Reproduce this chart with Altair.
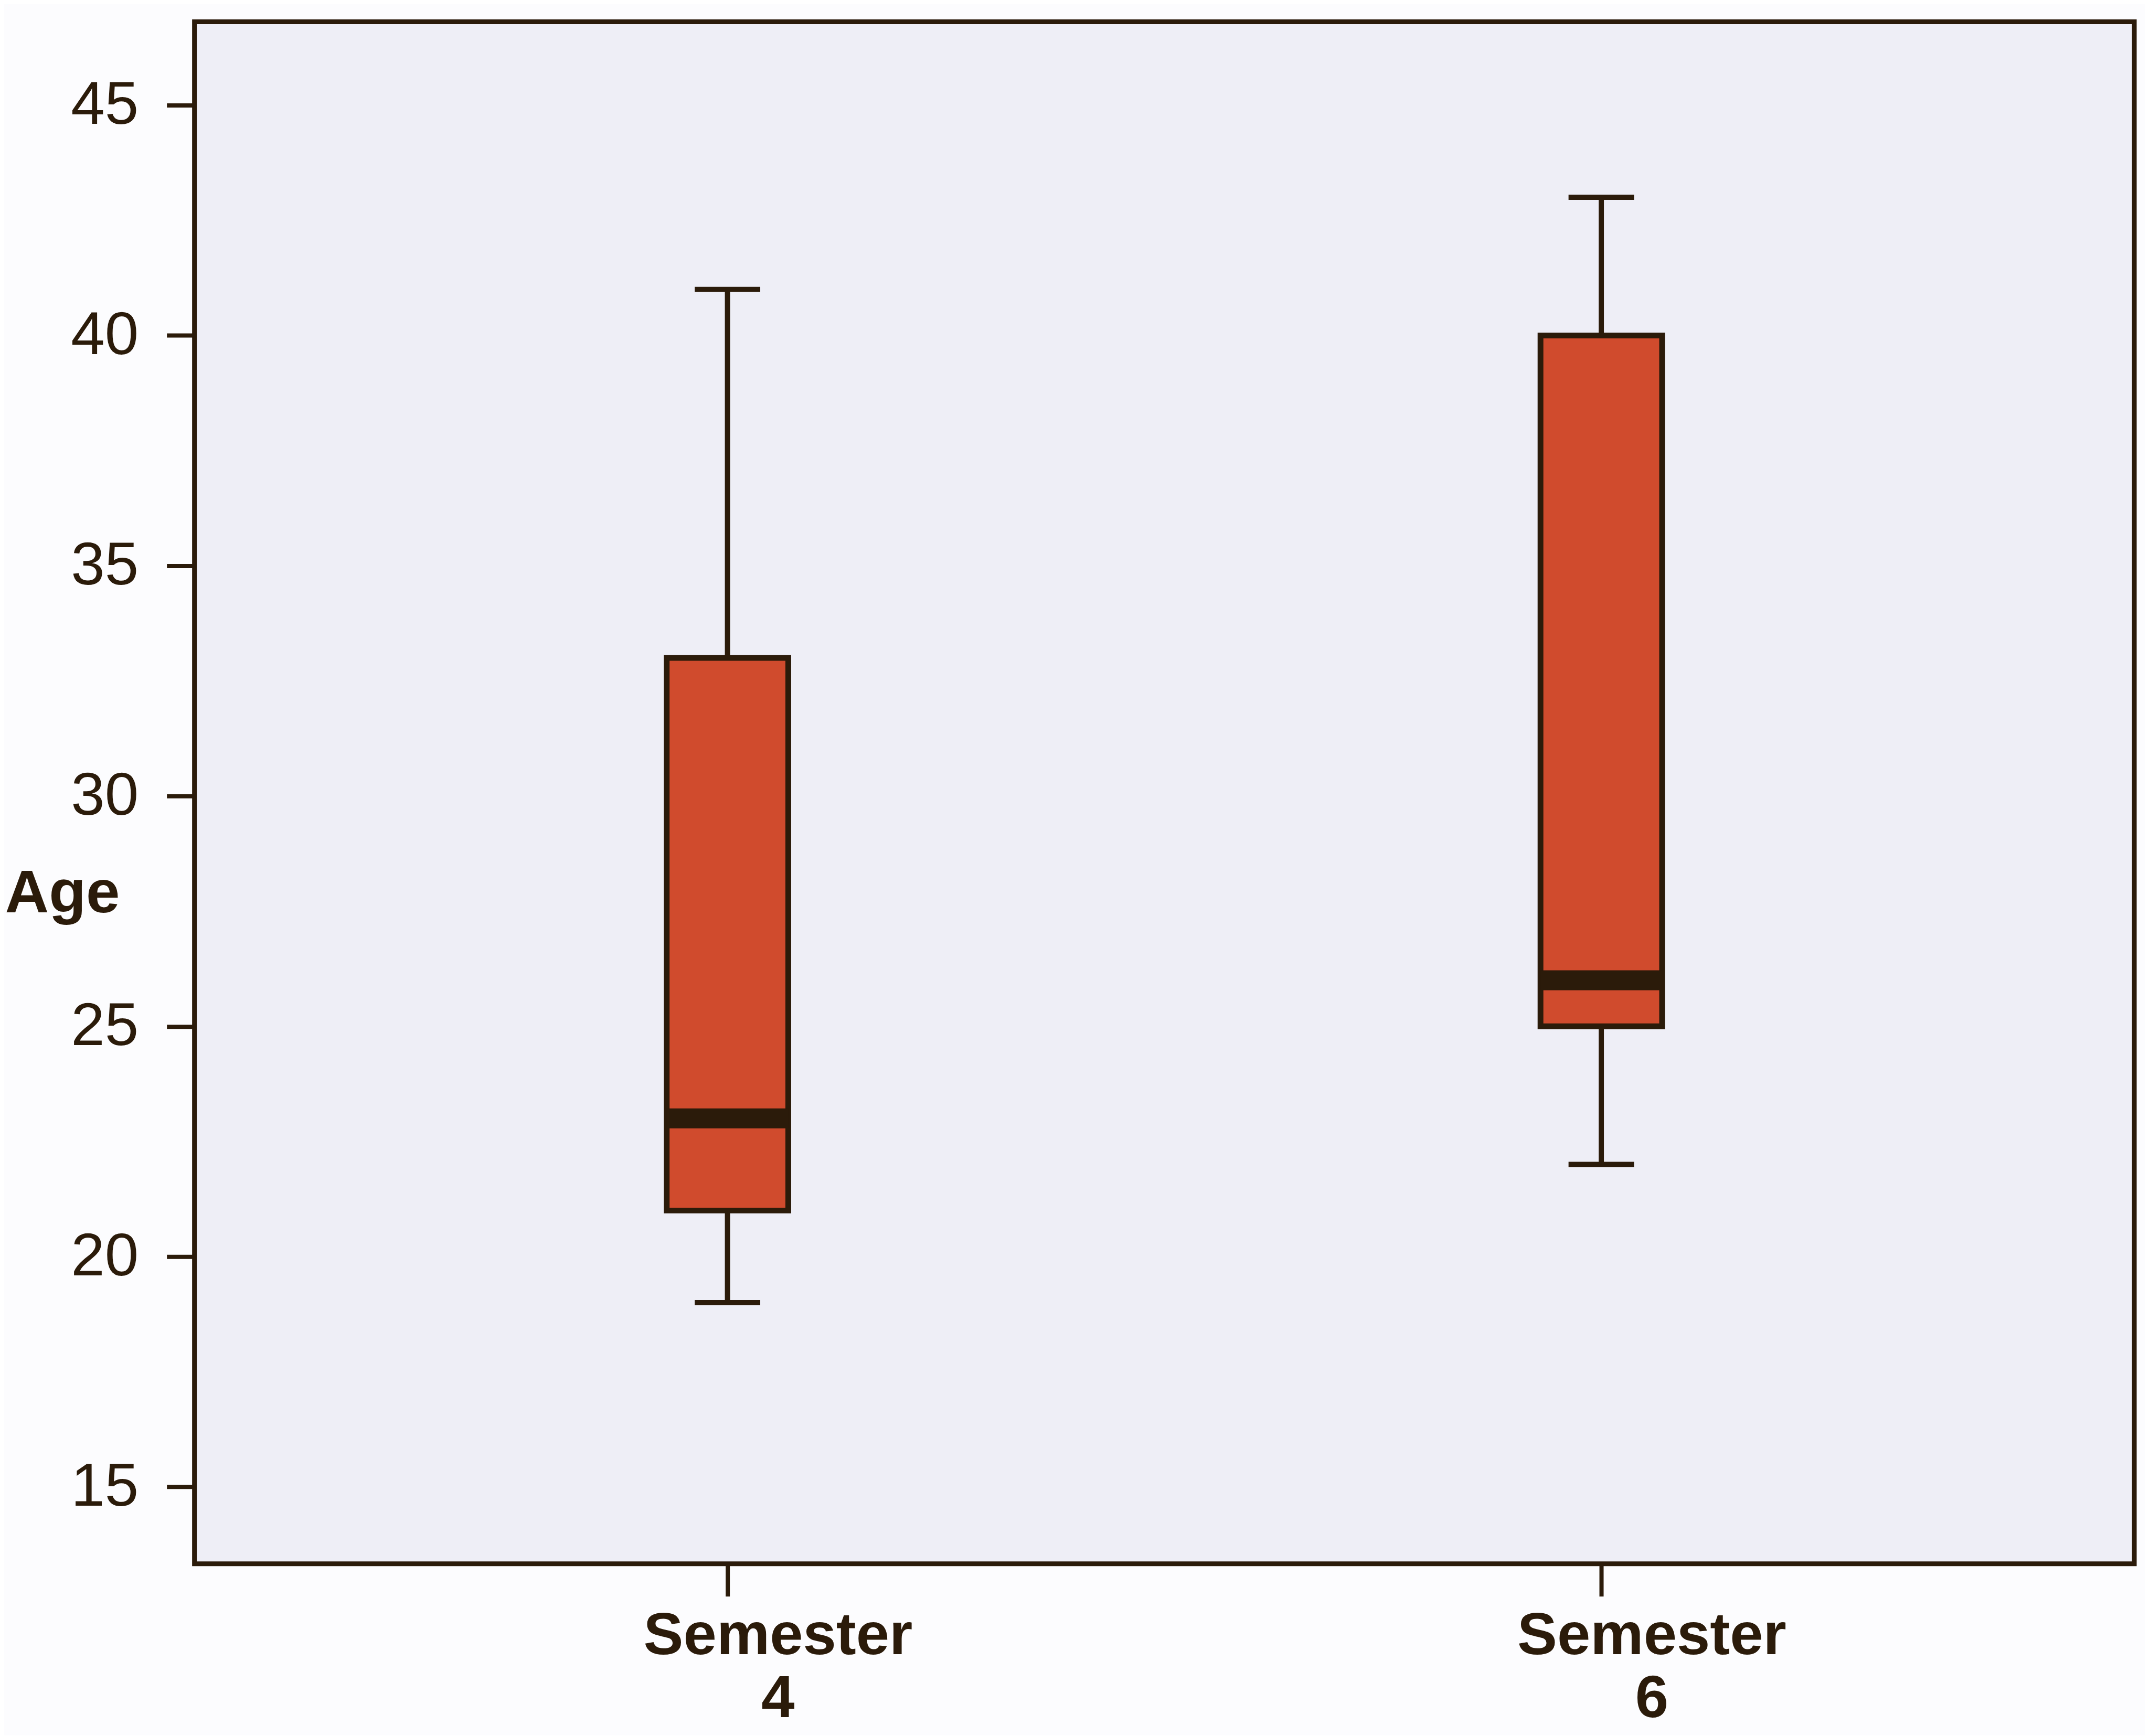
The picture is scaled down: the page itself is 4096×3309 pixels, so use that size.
import altair as alt
import pandas as pd

categories = ["Semester 4", "Semester 6"]
mins = [19, 22]
q1s = [21, 25]
medians = [23, 26]
q3s = [33, 40]
maxs = [41, 43]

df = pd.DataFrame({
    "semester": categories,
    "lo": mins,
    "q1": q1s,
    "med": medians,
    "q3": q3s,
    "hi": maxs,
})

DARK = "#2B1B0A"
FILL = "#D04B2D"
FONT = "Liberation Sans"

x = alt.X(
    "semester:N",
    sort=categories,
    scale=alt.Scale(type="point", padding=0.61),
    axis=alt.Axis(
        title=None,
        domain=False,
        grid=False,
        ticks=True,
        tickSize=62,
        tickWidth=8,
        tickColor=DARK,
        labelFont=FONT,
        labelFontWeight="bold",
        labelFontSize=114,
        labelColor=DARK,
        labelLineHeight=120,
        labelExpr="split(datum.label, ' ')",
        labelOffset=96,
        labelPadding=20,
        labelBaseline="top",
        labelAlign="center",
        labelAngle=0,
        labelLimit=2000,
        labelOverlap=False,
    ),
)

yscale = alt.Scale(domain=[13.33, 46.81], nice=False, zero=False)
yaxis = alt.Axis(
    values=[15, 20, 25, 30, 35, 40, 45],
    domain=False,
    grid=False,
    tickSize=53,
    tickWidth=8,
    tickColor=DARK,
    labelFont=FONT,
    labelFontSize=116,
    labelColor=DARK,
    labelPadding=54,
    labelBaseline="middle",
    title="Age",
    titleFont=FONT,
    titleFontWeight="bold",
    titleFontSize=116,
    titleColor=DARK,
    titleAngle=0,
    titleAlign="left",
    titleBaseline="alphabetic",
    titleX=-362,
    titleY=1699,
)

base = alt.Chart(df)

whisker = base.mark_rule(color=DARK, strokeWidth=10).encode(
    x=x,
    y=alt.Y("lo:Q", scale=yscale, axis=yaxis),
    y2="hi:Q",
)
cap_lo = base.mark_tick(color=DARK, size=125, thickness=10, opacity=1).encode(
    x=x, y=alt.Y("lo:Q", scale=yscale, axis=yaxis)
)
cap_hi = base.mark_tick(color=DARK, size=125, thickness=10, opacity=1).encode(
    x=x, y=alt.Y("hi:Q", scale=yscale, axis=yaxis)
)
box = base.mark_bar(size=232, fill=FILL, stroke=DARK, strokeWidth=11).encode(
    x=x,
    y=alt.Y("q1:Q", scale=yscale, axis=yaxis),
    y2="q3:Q",
)
median = base.mark_tick(color=DARK, size=232, thickness=38, opacity=1).encode(
    x=x, y=alt.Y("med:Q", scale=yscale, axis=yaxis)
)

chart = (
    alt.layer(whisker, cap_lo, cap_hi, box, median)
    .properties(
        width=3701,
        height=2942,
        autosize=alt.AutoSizeParams(type="none"),
        padding={"left": 363, "top": 32, "right": 20, "bottom": 326},
        background="#FCFCFE",
    )
    .configure_view(stroke=DARK, strokeWidth=9, fill="#EEEEF6")
)

chart.save("out.html", embed_options={"renderer": "svg", "actions": False})
